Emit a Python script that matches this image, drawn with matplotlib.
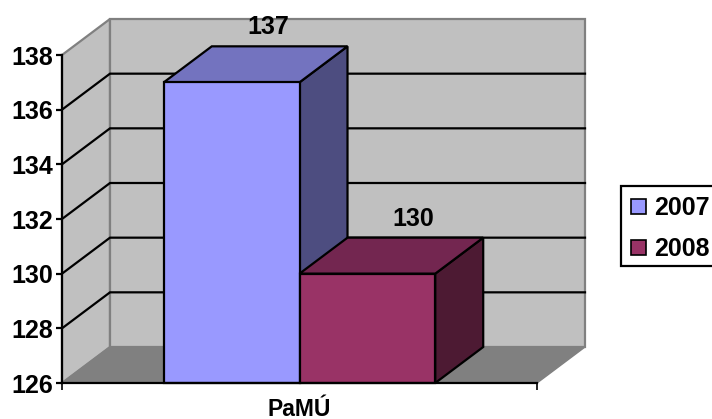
import matplotlib
matplotlib.use('Agg')
import matplotlib.pyplot as plt
from matplotlib.patches import Polygon, Patch, Rectangle

plt.rcParams['font.family'] = ['Liberation Sans', 'DejaVu Sans']
plt.rcParams['font.weight'] = 'bold'

category = 'PaMÚ'
years = ['2007', '2008']
values = [137, 130]
y_ticks = [126, 128, 130, 132, 134, 136, 138]

front_cols = ['#9999FF', '#993366']
top_cols = ['#7373BF', '#732650']
side_cols = ['#4D4D80', '#4D1A33']

W, H = 712, 419
fig = plt.figure(figsize=(W / 100, H / 100), dpi=100)
ax = fig.add_axes([62 / W, 1 - 383 / H, 475 / W, 328 / H])
ax.set_xlim(0, 3.5)
ax.set_ylim(126, 138)

# depth of the 3d box, in data units
dx = 48 / 475 * 3.5
dy = 36 / 328 * 12
x0, x1 = 0, 3.5
y0, y1 = 126, 138


def poly(pts, fc, ec='black', lw=1.6, z=2):
    ax.add_patch(Polygon(pts, closed=True, fc=fc, ec=ec, lw=lw, zorder=z, clip_on=False, joinstyle='miter'))


# walls and floor
poly([(x0, y0), (x0 + dx, y0 + dy), (x0 + dx, y1 + dy), (x0, y1)], '#C0C0C0', '#808080', 1.6, 1)
poly([(x0 + dx, y0 + dy), (x1 + dx, y0 + dy), (x1 + dx, y1 + dy), (x0 + dx, y1 + dy)], '#C0C0C0', '#808080', 1.6, 1)
poly([(x0, y0), (x1, y0), (x1 + dx, y0 + dy), (x0 + dx, y0 + dy)], '#808080', '#808080', 1, 1)

# gridlines
for t in y_ticks[1:-1]:
    ax.plot([x0, x0 + dx, x1 + dx], [t, t + dy, t + dy], color='black', lw=1.6, zorder=1.5, clip_on=False,
            solid_joinstyle='miter')

# bars
for i, v in enumerate(values):
    left = 0.75 + i
    right = left + 1
    poly([(right, y0), (right + dx, y0 + dy), (right + dx, v + dy), (right, v)], side_cols[i], z=2 + i)
    poly([(left, v), (right, v), (right + dx, v + dy), (left + dx, v + dy)], top_cols[i], z=2 + i)
    poly([(left, y0), (right, y0), (right, v), (left, v)], front_cols[i], z=2 + i)

# value labels
label_off = [(26.5, 39.5), (33, 39.5)]
for i, v in enumerate(values):
    ax.annotate(str(v), (0.75 + i + 0.5, v), xytext=label_off[i], textcoords='offset points',
                ha='center', va='center', fontsize=18, fontweight='bold', zorder=6, annotation_clip=False)

for s in ['top', 'right']:
    ax.spines[s].set_visible(False)
for s in ['left', 'bottom']:
    ax.spines[s].set_linewidth(1.6)
    ax.spines[s].set_zorder(5)
ax.patch.set_visible(False)

ax.set_yticks(y_ticks)
ax.set_yticklabels([str(t) for t in y_ticks], fontsize=18, fontweight='bold', va='center_baseline')
ax.tick_params(axis='y', length=4.5, width=1.6, pad=2.2)
ax.set_xticks([x0, x1])
ax.set_xticklabels(['', ''])
ax.tick_params(axis='x', length=5, width=1.2)
ax.text(1.75, 126 - 26.5 / 328 * 12, category, ha='center', va='center', fontsize=16.5, fontweight='bold',
        clip_on=False)

# legend box drawn by hand, the frame of fig.legend comes out too tall
fig.add_artist(Rectangle((621 / W, 1 - 266 / H), 95 / W, 80 / H, transform=fig.transFigure, fc='white',
                         ec='black', lw=1.6))
handles = [Patch(fc=front_cols[i], ec='black', lw=1.2, label=years[i]) for i in range(2)]
leg = fig.legend(handles=handles, loc='upper left', bbox_to_anchor=(621 / W, 1 - 186 / H), fontsize=18,
                 frameon=False, handlelength=0.6, handleheight=0.56, handletextpad=0.34, labelspacing=0.68,
                 borderpad=0.4, borderaxespad=0)

fig.savefig('out.png', dpi=100)
